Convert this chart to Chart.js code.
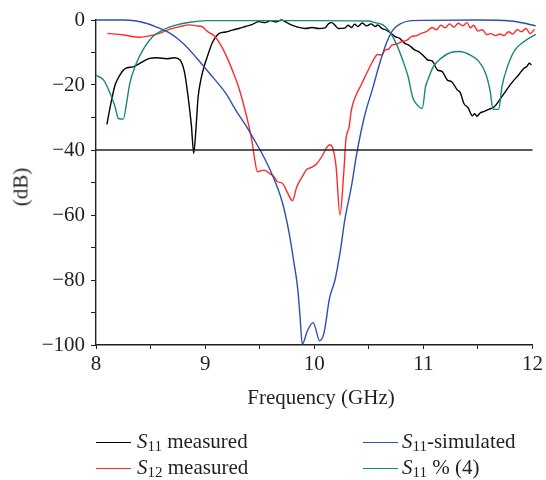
<!DOCTYPE html>
<html>
<head>
<meta charset="utf-8">
<script src="https://cdn.jsdelivr.net/npm/chart.js@4/dist/chart.umd.min.js"></script>
<style>
  html, body { margin: 0; padding: 0; background: #fff; }
  #wrap { position: relative; width: 546px; height: 480px; overflow: hidden; font-family: "Liberation Serif", "Times New Roman", serif; color: #231f20; }
  #c { position: absolute; left: 0; top: 0; }
  .txt { position: absolute; font-size: 21px; line-height: 21px; white-space: nowrap; }
  .sw { position: absolute; height: 1.4px; width: 35px; }
  i { font-style: italic; }
  sub { font-size: 15px; vertical-align: -3px; line-height: 0; }
</style>
</head>
<body>
<div id="wrap">
  <canvas id="c" width="546" height="480"></canvas>
  <div class="txt" id="xt" style="top:387px; left:321px; transform:translateX(-50%);">Frequency (GHz)</div>
  <div class="txt" id="yt" style="left:21px; top:187px; transform:translate(-50%,-50%) rotate(-90deg);">(dB)</div>
  <div class="sw" style="left:96px; top:442px; background:#000;"></div>
  <div class="txt" style="left:137px; top:431px;"><i>S</i><sub>11</sub> measured</div>
  <div class="sw" style="left:96px; top:468px; background:#ff2a2a;"></div>
  <div class="txt" style="left:137px; top:457px;"><i>S</i><sub>12</sub> measured</div>
  <div class="sw" style="left:363px; top:442px; background:#2f4fae;"></div>
  <div class="txt" style="left:402px; top:431px;"><i>S</i><sub>11</sub>-simulated</div>
  <div class="sw" style="left:363px; top:468px; background:#16877d;"></div>
  <div class="txt" style="left:402px; top:457px;"><i>S</i><sub>11</sub> % (4)</div>
</div>
<script>
// ---- data (frequency in GHz, level in dB) ----
const s11MeasFreq = [8.10,8.13,8.175,8.22,8.27,8.34,8.43,8.49,8.56,8.65,8.72,8.77,8.81,8.84,8.875,8.895,8.915,8.935,8.96,8.99,9.03,9.07,9.13,9.19,9.25,9.31,9.37,9.43,9.49,9.55,9.60,9.65,9.70,9.75,9.79,9.85,9.92,9.98,10.04,10.10,10.13,10.16,10.19,10.22,10.28,10.31,10.34,10.37,10.40,10.44,10.48,10.52,10.56,10.58,10.62,10.66,10.70,10.74,10.78,10.83,10.87,10.92,10.96,11.01,11.04,11.08,11.13,11.17,11.22,11.26,11.31,11.34,11.37,11.41,11.45,11.47,11.49,11.52,11.55,11.60,11.65,11.70,11.74,11.79,11.83,11.87,11.92,11.95,11.97,11.99];
const s11MeasDb   = [-32.1,-26.7,-20,-16.9,-14.9,-14.4,-12.8,-11.8,-11.6,-11.9,-11.6,-12.3,-15.9,-22.6,-32.8,-41,-34,-24,-18.5,-14.4,-10.3,-6.7,-4.1,-3.7,-3.1,-2.6,-2.0,-1.4,-0.5,-0.8,-0.2,-0.6,0,-0.8,-1.5,-2.2,-2.6,-2.3,-2.6,-2.4,-1.2,-0.8,-1.6,-2.6,-2.5,-1.6,-2.3,-1.3,-2.0,-0.9,-1.8,-1.2,-2.0,-1.5,-2.6,-3.1,-4.0,-5.1,-5.6,-7.2,-7.8,-9.2,-9.8,-11.3,-12.3,-12.6,-15.4,-15.8,-18.5,-19.0,-21.5,-22.5,-25.6,-27.0,-29.5,-28.8,-29.6,-28.6,-28.2,-27.5,-26.7,-24.5,-22.6,-20.2,-18.5,-17.0,-14.9,-14.2,-13.3,-13.8];

const s12MeasFreq = [8.105,8.25,8.40,8.49,8.58,8.67,8.76,8.86,8.92,8.97,9.02,9.08,9.14,9.20,9.25,9.31,9.36,9.40,9.43,9.45,9.48,9.54,9.59,9.63,9.66,9.71,9.75,9.80,9.84,9.89,9.93,9.98,10.02,10.07,10.11,10.14,10.17,10.20,10.236,10.27,10.29,10.32,10.34,10.39,10.43,10.48,10.51,10.55,10.58,10.62,10.65,10.68,10.71,10.75,10.80,10.85,10.89,10.94,10.98,11.01,11.04,11.08,11.12,11.16,11.20,11.24,11.28,11.32,11.36,11.40,11.43,11.46,11.50,11.54,11.58,11.62,11.66,11.70,11.74,11.78,11.82,11.86,11.90,11.94,11.98,12.02,12.06];
const s12MeasDb   = [-4.1,-4.6,-5.3,-4.9,-4.1,-2.9,-2.1,-1.5,-1.8,-2.0,-3.5,-4.8,-7.5,-11.5,-15.5,-21,-27,-32.5,-37.5,-42,-46.7,-46.2,-47.2,-48.2,-49.7,-50.3,-52.8,-55.6,-51.3,-48.2,-46,-45.3,-44.3,-42,-39.5,-38.4,-39.5,-45.1,-60,-47.2,-36.9,-32.8,-27.7,-22.6,-20,-16.4,-14.4,-11.8,-10.6,-10.8,-9.2,-9.0,-7.7,-7.5,-6.7,-6.2,-5.1,-4.8,-4.1,-3.8,-3.3,-2.3,-3.0,-1.6,-2.4,-1.2,-2.2,-1.0,-1.8,-0.8,-2.4,-1.6,-3.4,-3.0,-4.5,-4.2,-4.8,-4.3,-4.8,-3.6,-4.3,-3.0,-3.6,-2.6,-4.2,-3.0,-3.8];

const s11SimFreq = [8.00,8.25,8.37,8.46,8.55,8.68,8.80,8.92,9.04,9.19,9.28,9.37,9.45,9.52,9.61,9.71,9.77,9.81,9.85,9.87,9.89,9.94,9.99,10.05,10.09,10.14,10.19,10.24,10.28,10.34,10.39,10.46,10.54,10.60,10.66,10.72,10.80,10.89,11.00,11.50,11.80,11.93,12.03];
const s11SimDb   = [0,0,-0.3,-1,-2.1,-4.1,-7.2,-11.6,-16.4,-22.6,-27.7,-32.3,-36.9,-41,-47.2,-56.4,-65.6,-73.8,-83.1,-91.3,-99.7,-95.4,-93.1,-98.7,-96.2,-85.6,-80,-70.8,-61.5,-51.3,-41,-29.7,-20.5,-13.3,-7.2,-3.1,-1,-0.2,-0.1,0,-0.3,-1,-1.8];

const s11Eq4Freq = [8.00,8.07,8.13,8.175,8.205,8.25,8.28,8.31,8.37,8.43,8.52,8.61,8.74,8.86,9.01,9.50,10.00,10.50,10.555,10.63,10.69,10.75,10.81,10.86,10.90,10.93,10.99,11.02,11.04,11.09,11.16,11.25,11.33,11.43,11.51,11.57,11.61,11.64,11.69,11.72,11.77,11.84,11.92,12.03];
const s11Eq4Db   = [-17,-18.5,-22.6,-26.7,-30.3,-30.5,-25.6,-19.5,-13.3,-9.2,-5.1,-3.1,-1.5,-0.7,-0.2,-0.2,-0.2,-0.3,-0.8,-1.5,-3.6,-7.2,-12.3,-17.4,-23.6,-25.6,-27.2,-20.5,-18.5,-14.4,-11.8,-10,-9.7,-10.8,-12.8,-16.4,-21.5,-27.5,-27.5,-20.5,-14.4,-9.2,-6.7,-4.4];

const refLevelFreq = [8, 12];
const refLevelDb   = [-40, -40];

const xTicksMajor = [8, 9, 10, 11, 12];
const yTicksMajor = [0, -20, -40, -60, -80, -100];

// ---- chart ----
const pts = (fx, fy) => fx.map((f, i) => ({ x: f, y: fy[i] }));
const FONT = { family: '"Liberation Serif", "Times New Roman", serif', size: 21 };
const line = (label, fx, fy, color, w) => ({
  label, data: pts(fx, fy), borderColor: color, backgroundColor: color,
  borderWidth: w, pointRadius: 0, cubicInterpolationMode: 'monotone', clip: false, fill: false
});

new Chart(document.getElementById('c'), {
  type: 'line',
  data: {
    datasets: [
      line('-40 dB', refLevelFreq, refLevelDb, '#222', 1.4),
      line('S11 % (4)', s11Eq4Freq, s11Eq4Db, '#16877d', 1.4),
      line('S11-simulated', s11SimFreq, s11SimDb, '#2f4fae', 1.4),
      line('S12 measured', s12MeasFreq, s12MeasDb, '#ff2a2a', 1.4),
      line('S11 measured', s11MeasFreq, s11MeasDb, '#000', 1.4)
    ]
  },
  options: {
    responsive: false,
    devicePixelRatio: 1,
    animation: false,
    layout: { padding: { left: 10, top: 20, right: 10, bottom: 0 } },
    plugins: { legend: { display: false }, tooltip: { enabled: false } },
    scales: {
      x: {
        type: 'linear', min: 8, max: 12,
        afterFit: s => { s.height = 135; },
        afterBuildTicks: s => {
          const t = [];
          for (let v = 8; v <= 12.001; v += 0.5) t.push({ value: Math.round(v * 10) / 10 });
          s.ticks = t;
        },
        ticks: {
          autoSkip: false, maxRotation: 0, padding: 3, color: '#231f20', font: FONT,
          callback: v => xTicksMajor.includes(v) ? String(v) : ''
        },
        grid: { drawOnChartArea: false, drawTicks: true, tickLength: 4, color: '#231f20', lineWidth: 1 },
        border: { display: true, color: '#231f20', width: 1.4 }
      },
      y: {
        type: 'linear', min: -100, max: 0,
        afterFit: s => { s.width = 86; },
        afterBuildTicks: s => {
          const t = [];
          for (let v = -100; v <= 0; v += 10) t.push({ value: v });
          s.ticks = t;
        },
        ticks: {
          autoSkip: false, padding: 6, color: '#231f20', font: FONT,
          callback: v => yTicksMajor.includes(v) ? (v < 0 ? '\u2212' + (-v) : String(v)) : ''
        },
        grid: { drawOnChartArea: false, drawTicks: true, tickLength: 5, color: '#231f20', lineWidth: 1 },
        border: { display: true, color: '#231f20', width: 1.4 }
      }
    }
  }
});
</script>
</body>
</html>
